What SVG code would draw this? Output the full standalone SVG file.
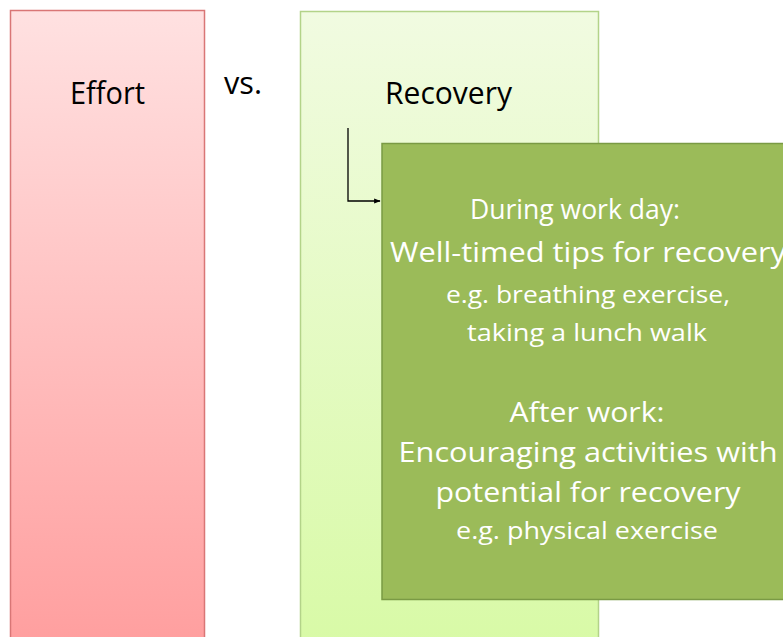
<svg xmlns="http://www.w3.org/2000/svg" width="783" height="637" viewBox="0 0 783 637">
  <defs>
    <linearGradient id="gEffort" x1="0" y1="0" x2="0" y2="1">
      <stop offset="0" stop-color="#FFE1E1"/>
      <stop offset="1" stop-color="#FF9E9E"/>
    </linearGradient>
    <linearGradient id="gRecovery" x1="0" y1="0" x2="0" y2="1">
      <stop offset="0" stop-color="#F1FBE1"/>
      <stop offset="1" stop-color="#D8FAA6"/>
    </linearGradient>
    <marker id="arrow" viewBox="0 0 10 10" refX="9" refY="5" markerWidth="5" markerHeight="5" orient="auto" markerUnits="strokeWidth">
      <path d="M0,1 L10,5 L0,9 Z" fill="#000"/>
    </marker>
  </defs>
  <style>
    .lbl { font-family: "Open Sans", "Liberation Sans", sans-serif; fill: #000; }
    .w { font-family: "Open Sans", "Liberation Sans", sans-serif; fill: #FFFFFF; text-anchor: middle; }
    .big { font-size: 28px; }
    .small { font-size: 24px; }
  </style>
  <rect width="783" height="637" fill="#FFFFFF"/>
  <g id="effort">
    <rect x="10.5" y="10.5" width="194" height="640" fill="url(#gEffort)" stroke="#D97676" stroke-width="1.5"/>
    <text class="lbl" x="70" y="104" font-size="31" textLength="75" lengthAdjust="spacingAndGlyphs">Effort</text>
  </g>
  <g id="vs">
    <text class="lbl" x="224" y="94" font-size="31" textLength="38" lengthAdjust="spacingAndGlyphs">vs.</text>
  </g>
  <g id="recovery">
    <rect x="300.5" y="11.5" width="298" height="640" fill="url(#gRecovery)" stroke="#B3D389" stroke-width="1.5"/>
    <text class="lbl" x="385" y="104" font-size="31" textLength="127" lengthAdjust="spacingAndGlyphs">Recovery</text>
  </g>
  <g id="connectors">
    <path d="M348,128 L348,201 L380,201" fill="none" stroke="#000" stroke-width="1.3" marker-end="url(#arrow)"/>
  </g>
  <g id="tips">
    <rect x="382" y="143.5" width="410" height="456" fill="#9BBB59" stroke="#7A9A44" stroke-width="1.5"/>
    <text class="w big" x="575" y="219" textLength="210" lengthAdjust="spacingAndGlyphs">During work day:</text>
    <text class="w big" x="588" y="262" textLength="396" lengthAdjust="spacingAndGlyphs">Well-timed tips for recovery</text>
    <text class="w small" x="588" y="303" textLength="284" lengthAdjust="spacingAndGlyphs">e.g. breathing exercise,</text>
    <text class="w small" x="587" y="341" textLength="240" lengthAdjust="spacingAndGlyphs">taking a lunch walk</text>
    <text class="w big" x="587" y="422" textLength="155" lengthAdjust="spacingAndGlyphs">After work:</text>
    <text class="w big" x="588" y="462" textLength="379" lengthAdjust="spacingAndGlyphs">Encouraging activities with</text>
    <text class="w big" x="588" y="502" textLength="305" lengthAdjust="spacingAndGlyphs">potential for recovery</text>
    <text class="w small" x="587" y="539" textLength="262" lengthAdjust="spacingAndGlyphs">e.g. physical exercise</text>
  </g>
</svg>
